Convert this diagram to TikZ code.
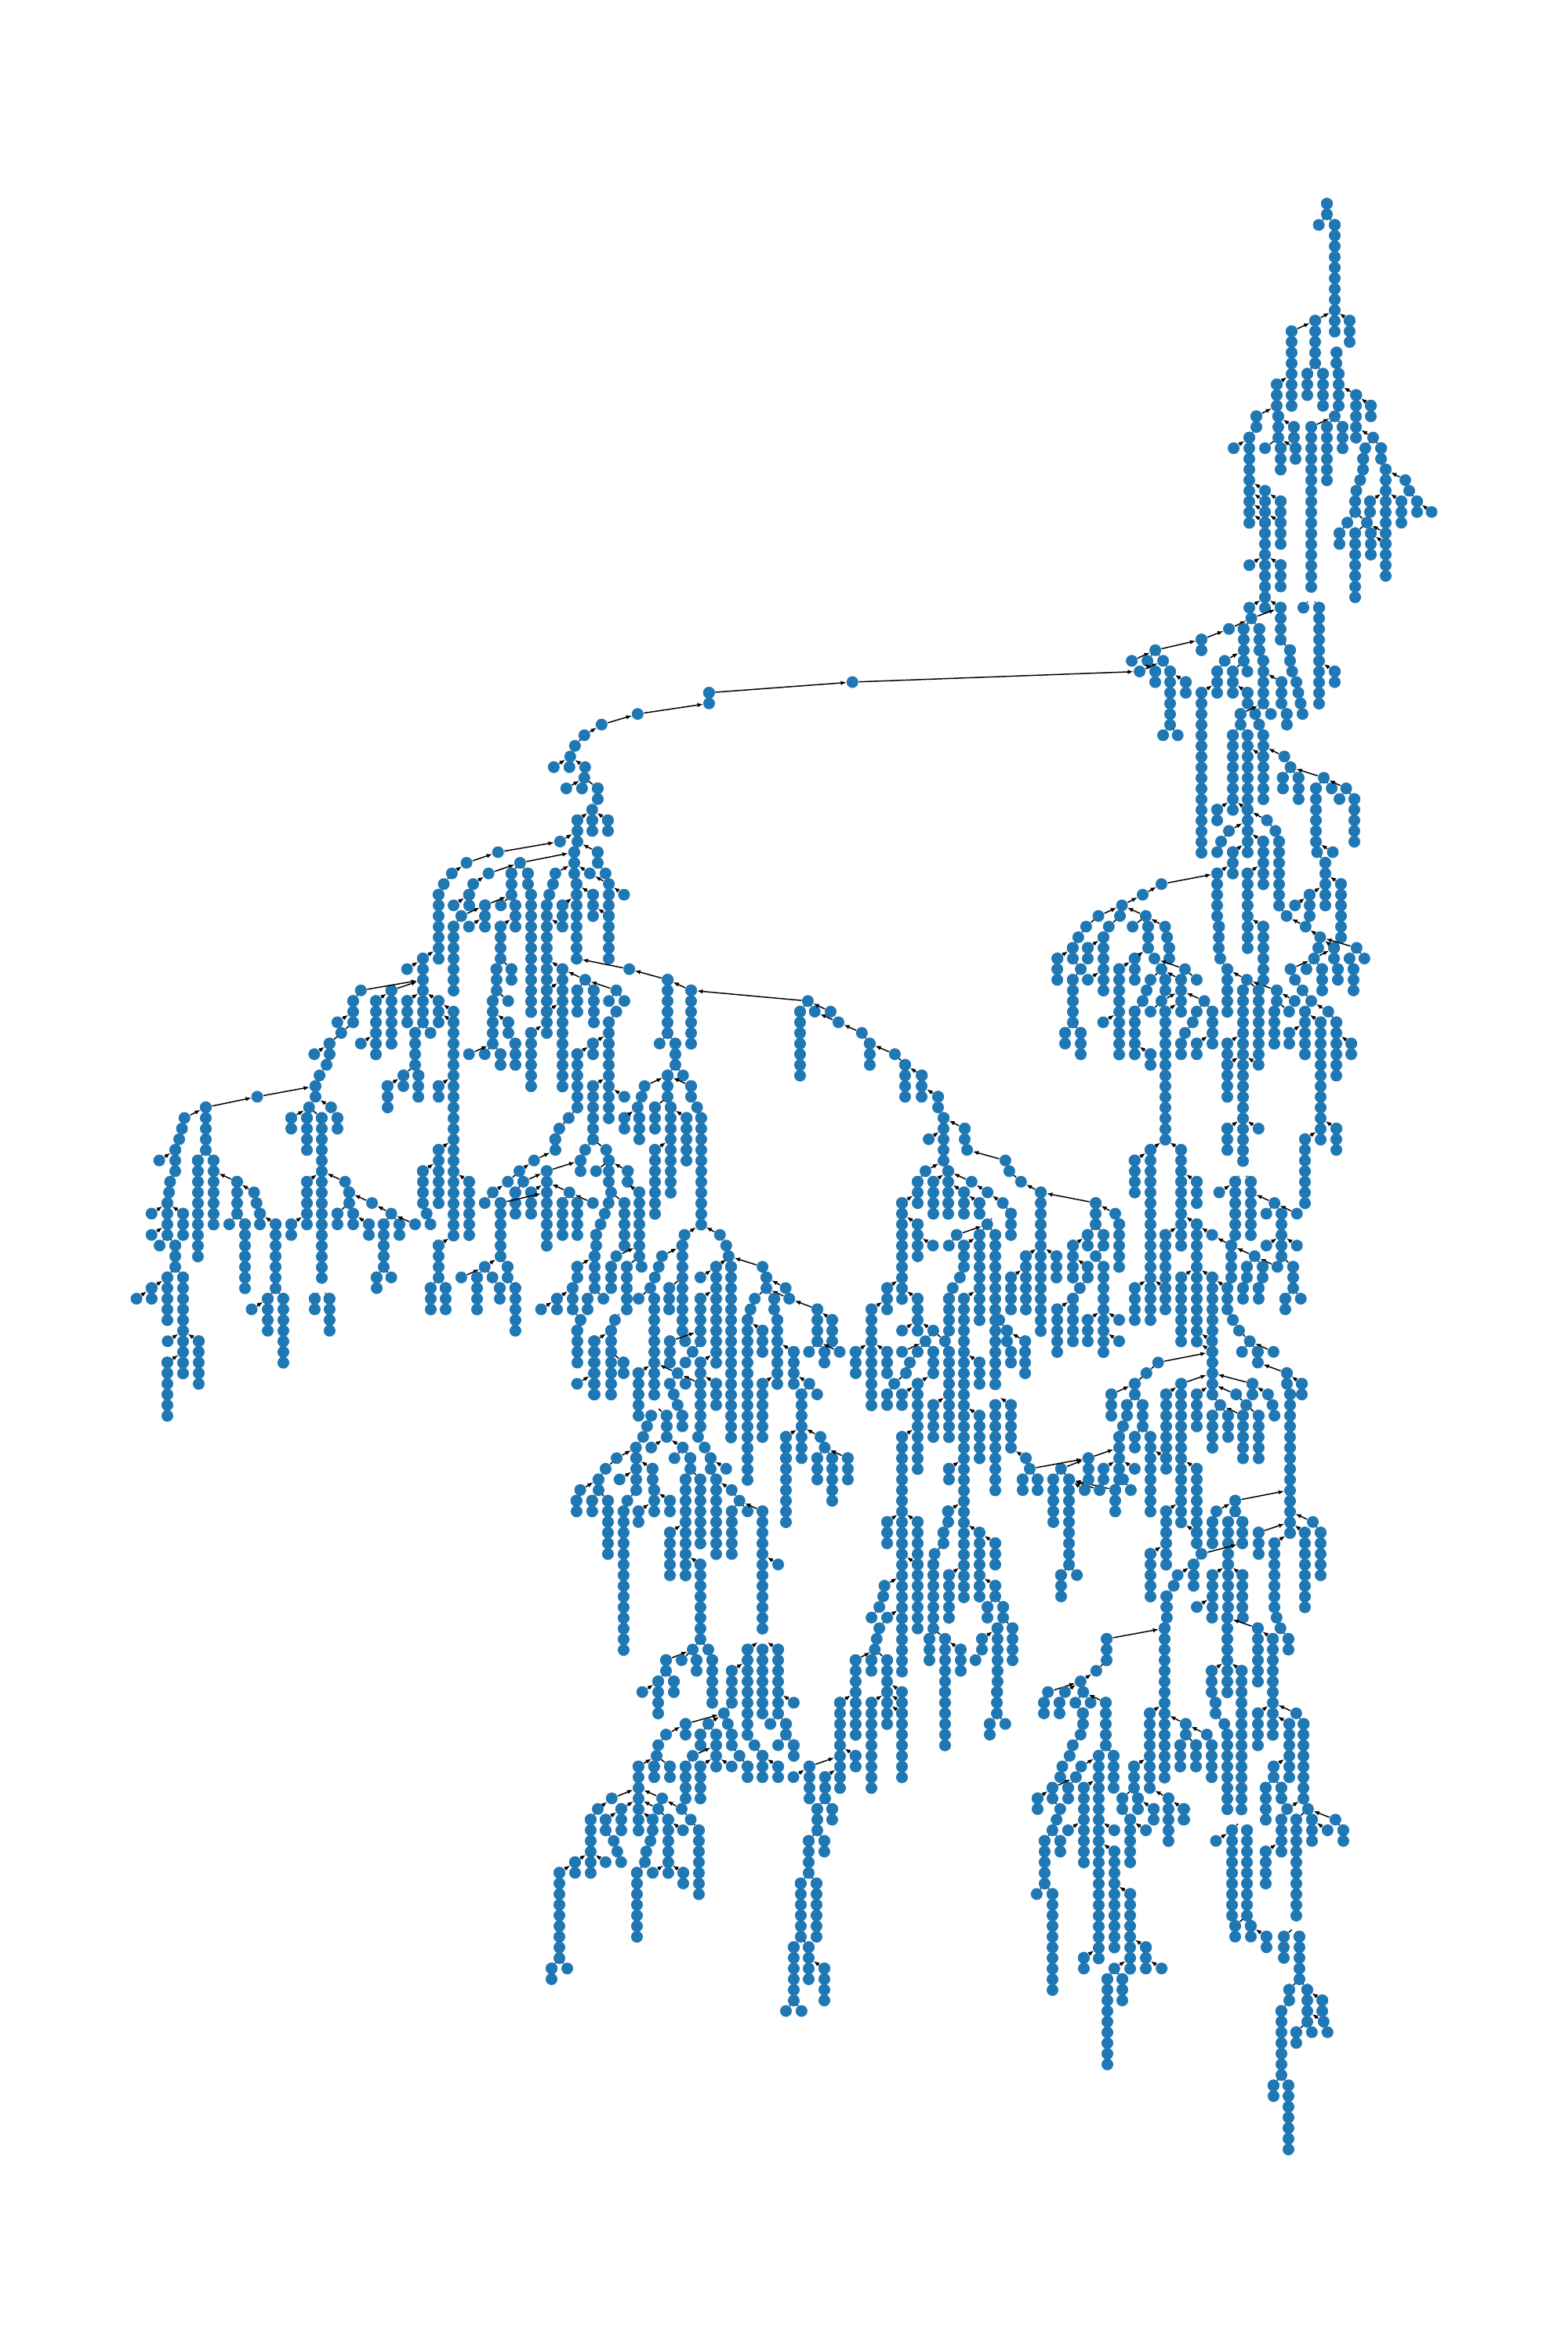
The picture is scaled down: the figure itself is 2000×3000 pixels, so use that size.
\documentclass[tikz,border=0pt]{standalone}
\usetikzlibrary{arrows.meta}
\definecolor{treeblue}{HTML}{1F77B4}
\tikzset{
  treenode/.style={circle,fill,inner sep=0pt,minimum size=0.15cm},
  treerun/.style={line width=0.15cm,line cap=round,dash pattern=on 0.01pt off 0.1356cm},
  treelink/.style={line width=0.42pt,black,shorten >=0.075cm},
  treearrow/.style={treelink,-{Latex[length=2.1pt,width=1.6pt]}}
}
\newcount\treeid
% one chain per entry: x / first y / last y / x of the parent, read off a crop
\newcommand{\treetile}[5]{%
  \foreach \zx/\zt/\zb/\zp in {#5}{%
    \global\advance\treeid by 1
    \edef\tid{\the\treeid}%
    \pgfmathsetmacro{\fx}{#1+#3*\zx}%
    \pgfmathsetmacro{\fp}{#1+#3*\zp}%
    \pgfmathtruncatemacro{\Lt}{round((#2+#4*\zt-259.8)/13.56)}%
    \pgfmathtruncatemacro{\Lb}{round((#2+#4*\zb-259.8)/13.56)}%
    \node[treenode] (n\tid) at (\fx,{259.8+13.56*\Lt}) {};
    \ifnum\Lb>\Lt
      \coordinate (e\tid) at (\fx,{259.8+13.56*\Lb+0.4});
      \draw[treerun] (n\tid.center) -- (e\tid);
    \fi
    \pgfmathtruncatemacro{\far}{abs(\fp-\fx)>17?2:(abs(\fp-\fx)>7?1:0)}%
    \ifnum\far>0
      \coordinate (up\tid) at (\fp,{259.8+13.56*(\Lt-1)});
      \ifnum\far=2
        \draw[treearrow] (n\tid) -- (up\tid);
      \else
        \draw[treelink] (n\tid) -- (up\tid);
      \fi
    \fi
  }%
}
\begin{document}
\begin{tikzpicture}[x=0.01cm,y=-0.01cm,color=treeblue]
  \useasboundingbox (0,0) rectangle (2000,3000);
  % upper right
  \treetile{1300}{230}{.3571}{.4464}{
    1099/68/100/1099,1070/128/128/1099,1127/128/465/1099,1134/494/525/1127,1141/555/645/1134,1127/675/675/1141,
    1180/402/462/1127,1057/402/525/1127,973/433/645/1057,1029/555/615/1057,1085/555/645/1057,
    920/585/645/973,925/675/735/920,934/765/825/925,847/675/705/920,822/735/980/847,766/766/766/822,878/766/766/925,
    981/705/735/925,987/766/796/925,1043/705/1190/1127,1099/705/855/1127,1155/705/766/1127,1204/614/735/1141,
    1256/645/675/1204,1264/735/735/1204,1236/766/766/1264,1229/796/826/1236,1218/858/858/1229,1204/888/888/1218,
    1200/918/950/1204,1293/766/796/1264,1309/826/980/1293,1309/1010/1010/1242,1309/1040/1130/1256,
    1379/858/858/1309,1393/888/888/1379,1421/918/950/1393,1473/948/948/1421,1365/918/980/1309,1253/918/950/1309,
    1242/980/980/1200,1172/980/980/1200,1144/1010/1040/1172,1200/1010/1190/1242,1256/1010/1070/1242,
    878/888/888/822,878/918/918/822,878/948/948/822,878/979/1220/822,934/918/950/878,934/979/1040/878,
    822/1100/1100/878,934/1100/1160/878,822/1220/1220/878,934/1220/1310/878,829/1252/1252/934,749/1282/1282/829,
    801/1282/1372/829,815/1403/1403/801,857/1282/1340/829,871/1372/1495/857,651/1312/1342/749,486/1342/1342/651,
    402/1372/1372/486,458/1372/1372/486,514/1372/1372/486,430/1403/1403/514,486/1403/1433/430,539/1403/1556/514,
    595/1433/1465/539,651/1465/1951/707,707/1403/1465/734,734/1372/1372/801,763/1403/1465/801,815/1465/1495/763,
    1071/1220/1495/1043,1015/1220/1220/1043,1127/1403/1433/1071,967/1342/1372/934,975/1403/1403/967,990/1433/1433/975,
    997/1465/1465/990,1005/1495/1495/997,1012/1525/1525/1005,937/1433/1495/871,955/1525/1555/937,899/1525/1525/871,
    843/1525/1525/871,790/1525/1555/871,857/1555/1555/843
  }
  % middle right
  \treetile{1300}{900}{.3571}{.4464}{
    514/85/85/539,566/85/85/539,763/85/298/790,815/85/268/790,871/85/115/857,871/146/268/815,815/298/419/763,
    707/298/328/763,885/328/328/815,915/358/358/885,928/388/570/915,955/600/600/928,1023/632/632/955,1075/660/660/1023,
    749/358/358/815,721/388/388/749,707/419/419/721,871/388/510/815,763/419/480/815,707/480/600/763,714/632/692/707,
    718/722/722/714,815/480/692/871,508/510/510/707,441/540/540/508,367/570/570/441,283/600/600/367,360/600/600/367,
    320/632/632/360,452/600/600/367,239/632/632/283,405/632/632/452,460/632/692/452,521/632/632/452,528/662/662/521,
    535/692/722/528,211/662/662/239,301/662/815/320,191/692/722/211,245/692/722/301,137/722/782/191,220/752/752/191,
    191/782/905/220,245/782/782/301,412/722/782/460,483/722/722/460,357/752/1000/412,508/752/752/483,592/752/752/483,
    578/782/873/508,634/782/782/592,469/782/782/508,455/812/812/469,441/843/843/455,508/843/843/578,521/782/812/508,
    661/843/843/578,634/873/873/661,690/873/965/661,620/904/904/634,592/935/935/620,578/965/995/592,634/965/995/690,
    521/873/1268/578,469/873/873/508,412/873/995/441,300/905/905/357,164/935/965/191,220/935/995/191,469/995/1026/412,
    469/1268/1329/521,578/1268/1329/521,412/1298/1389/469,743/752/873/718,813/782/782/743,920/812/843/813,
    799/812/1329/813,855/812/995/813,871/632/782/815,947/146/146/871,969/176/176/947,1088/207/207/969,941/207/237/969,
    997/207/268/969,1116/237/237/1088,1060/237/388/1088,1168/237/237/1088,1144/268/268/1168,1197/268/388/1168,
    1064/419/419/1060,1120/419/419/1060,1093/450/570/1064,1037/540/600/1093,985/570/570/1037,1149/510/660/1093,
    1068/692/692/1075,1125/692/722/1075,1053/722/722/1125,1205/692/692/1075,1233/722/722/1205,1180/722/722/1205,
    969/752/752/1053,1026/752/752/1053,1081/752/812/1053,985/782/782/969,1012/812/812/985,984/843/843/920,1043/843/843/1012,
    1138/752/782/1125,1194/752/812/1180,1104/873/873/1043,1021/873/995/1043,911/873/965/920,964/873/873/920,
    1077/904/1268/1021,1133/904/1056/1104,1186/965/995/1133,964/935/965/1021,1021/1238/1420/1077,1133/1207/1268/1077,
    743/965/995/799,743/1026/1116/799,855/1026/1026/799,743/1207/1268/799,855/1207/1207/799
  }
  % far left
  \treetile{150}{1000}{.4464}{.523}{
    1087/166/166/1264,997/192/192/1087,955/218/218/997,932/244/244/955,917/270/426/932,872/426/581/917,827/452/452/872,
    1150/192/192/1304,1060/218/218/1150,1016/244/244/1060,1004/270/296/1016,960/296/296/1004,1125/218/270/1150,
    1172/218/244/1150,1181/270/581/1172,1181/607/737/1226,1095/296/296/1125,1050/296/348/1125,982/322/322/1050,
    1004/348/348/1050,960/348/503/982,1136/296/348/1125,1094/348/426/1136,1082/452/503/1094,1125/452/478/1094,
    1072/529/633/1082,1116/529/529/1082,1116/581/607/1072,1136/633/685/1116,1094/659/685/1072,1049/659/659/1072,
    1004/659/659/1072,1226/452/478/1226,1226/503/529/1271,1226/555/607/1271,1271/452/763/1226,1336/478/478/1271,
    1425/503/503/1336,1313/503/555/1336,1360/503/581/1336,1404/529/529/1425,1448/529/529/1425,1425/555/555/1425,
    1404/581/840/1425,1358/633/659/1404,1313/659/789/1358,1289/815/815/1313,1262/841/841/1289,1250/867/892/1262,
    1190/918/918/1250,1148/944/944/1190,1115/970/970/1148,1072/996/996/1115,1049/1022/1022/1072,1358/737/867/1404,
    1448/763/763/1404,1336/892/892/1358,1396/892/892/1358,1323/918/944/1336,1404/918/970/1396,1410/996/996/1404,
    1367/944/944/1404,1458/944/970/1404,1226/944/1126/1323,1159/970/970/1226,1136/996/1048/1159,1181/996/1048/1226,
    1094/1022/1152/1226,1291/996/996/1226,1358/1022/1022/1291,1271/1022/1100/1291,1313/1022/1100/1291,1403/1022/1022/1410,
    1392/1048/1048/1403,1380/1074/1074/1392,1367/1100/1126/1380,1363/1152/1230/1367,1448/1022/1126/1410,1425/1152/1152/1491,
    1410/1178/1230/1425,1455/1178/1282/1491,1313/1178/1204/1363,1300/1230/1282/1313,1343/1256/1282/1363,1388/1256/1256/1363,
    1255/1256/1282/1300,1210/1282/1282/1255,1421/1306/1306/1443,1410/1332/1358/1421,1362/1358/1488/1410,1323/1306/1306/1300,
    1313/1332/1410/1323,1313/1462/1462/1362,1410/1384/1488/1410,1445/1410/1436/1410,
    917/529/581/872,827/529/581/872,894/607/607/872,960/555/555/917,960/581/1126/917,850/607/685/872,817/711/737/850,
    860/711/763/850,771/737/789/817,782/503/633/872,695/503/503/872,673/529/581/695,738/529/659/782,628/581/581/673,
    639/607/607/673,605/633/659/639,562/659/659/605,695/633/633/738,597/685/685/605,577/711/711/597,565/737/763/577,
    399/763/763/565,252/789/892/399,191/815/815/252,184/841/841/191,176/867/867/184,165/892/944/176,119/918/918/165,
    150/970/970/165,147/996/996/150,142/1022/1100/147,97/1048/1048/142,97/1100/1100/142,187/1048/1100/142,120/1126/1126/142,
    165/1126/1178/142,142/1204/1306/165,187/1204/1462/165,97/1230/1256/142,54/1256/1256/97,142/1410/1540/187,
    143/1358/1358/187,232/1358/1462/187,229/918/1152/252,274/918/1074/252,341/970/1048/274,390/996/996/341,397/1022/1022/390,
    407/1048/1074/397,319/1074/1074/341,364/1074/1230/341,452/1074/1230/407,496/1074/1100/541,429/1256/1332/452,
    473/1256/1410/452,383/1282/1282/429,547/789/789/565,610/789/789/565,496/815/841/547,541/815/892/547,583/815/1230/547,
    628/815/841/610,541/970/1074/583,650/970/970/583,661/996/1022/650,628/1048/1074/661,673/1048/1074/661,727/1022/1022/661,
    782/1048/1048/727,718/1074/1100/673,760/1074/1178/782,805/1074/1100/782,850/1074/1074/782,740/1204/1230/760,
    782/1204/1204/760,563/1256/1282/583,605/1256/1332/583,917/737/763/960,917/892/1022/960,872/944/1022/917,
    1004/970/1100/960,883/1048/1048/872,894/1074/1074/883,917/1126/1204/960,894/1230/1282/917,937/1230/1282/917,
    1049/1178/1178/1094,982/1204/1204/1049,1027/1204/1282/1049,1071/1204/1204/1049,1114/1178/1204/1094,1092/1230/1256/1071,
    1136/1230/1332/1114
  }
  % centre
  \treetile{650}{1200}{.3827}{.4783}{
    994/160/160/605,1017/188/188/994,1070/188/188/994,1096/217/217/1017,1174/245/245/1096,1200/273/330/1174,1284/302/302/1200,
    1318/330/415/1284,1374/358/415/1318,1428/415/443/1374,968/188/358/994,605/131/273/527,527/103/245/398,500/273/273/527,
    552/273/330/527,527/358/415/552,578/358/358/552,450/387/387/527,440/415/415/450,427/443/443/440,432/472/528/427,
    605/387/415/527,484/443/500/527,537/443/670/527,590/472/585/537,625/443/443/605,638/472/783/625,484/557/727/537,
    382/472/500/427,432/670/840/382,440/868/868/432,430/953/953/469,583/783/783/638,701/783/783/638,575/812/1038/583,
    585/1067/1067/575,722/812/812/701,730/840/840/722,738/868/1350/730,843/868/868/730,856/897/925/843,920/925/925/856,
    932/953/953/856,1026/982/1067/932,1075/1010/1067/1026,998/1095/1095/1026,1050/1095/1123/1026,1100/1095/1095/1026,
    817/953/953/856,882/953/982/856,803/982/982/817,793/1010/1465/803,892/1010/1180/882,843/1038/1095/793,947/1095/1180/892,
    843/1180/1322/892,999/1180/1180/947,1025/1208/1208/999,972/1208/1350/999,921/1322/1350/972,1036/1322/1322/972,
    1050/1350/1350/1036,688/868/1123/738,636/897/897/688,636/953/1067/688,508/840/840/575,497/868/868/508,484/897/897/497,
    469/925/925/484,482/953/1237/469,532/925/982/575,534/1067/1123/636,610/1095/1095/636,586/1123/1123/610,636/1123/1152/688,
    636/1180/1295/560,628/1322/1322/636,650/1350/1350/628,688/1180/1237/636,560/1152/1152/482,534/1180/1180/560,586/1180/1180/560,
    547/1208/1208/534,560/1237/1237/547,575/1265/1293/560,523/1265/1322/482,472/1265/1265/482,458/1293/1293/472,445/1322/1322/458,
    429/1152/1265/482,472/1350/1350/523,577/1350/1350/523,421/1350/1350/445,1153/1095/1152/1205
  }
  % right centre
  \treetile{1100}{1400}{.4145}{.4783}{
    886/224/480/886,886/508/592/886,932/366/480/981,932/508/565/886,838/508/592/886,981/224/394/981,1029/224/281/981,
    1029/337/678/981,910/705/705/1076,874/735/735/910,838/764/792/874,766/792/849/838,814/820/849/838,862/820/877/838,
    802/877/877/814,790/906/1019/802,838/906/934/862,886/906/1104/862,934/792/934/981,934/962/991/886,981/764/1161/1076,
    1029/792/877/1076,1076/480/622/1029,1076/650/650/1029,1076/678/792/1029,981/480/650/1029,1123/508/565/1076,
    1135/394/480/1076,1076/366/366/1029,1147/224/366/1170,1195/224/366/1170,1098/252/252/1147,1268/281/281/1195,
    1243/309/309/1268,1337/309/309/1268,1290/309/423/1268,1243/394/394/1290,1337/394/394/1290,1207/423/423/1135,
    1277/451/451/1207,1325/451/508/1290,1301/536/565/1325,1349/536/536/1325,1183/451/480/1207,1232/451/480/1207,
    1171/508/536/1183,1219/508/536/1232,1140/593/593/1123,1159/622/622/1140,1192/650/650/1159,1265/678/678/1192,
    1168/678/678/1192,1216/678/707/1192,1306/735/764/1216,1352/764/792/1306,1316/792/1190/1306,1200/764/792/1076,
    1150/792/792/1076,1248/792/792/1200,1262/820/820/1248,1268/849/849/1262,1101/820/820/1076,1181/820/820/1150,
    1171/849/962/1101,1077/849/934/1101,1125/849/906/1101,1219/849/962/1181,1386/1133/1133/1316,1361/1161/1360/1316,
    1410/1161/1275/1386,1268/1190/1360/1316,1147/1076/1104/1316,1089/1104/1104/1147,1077/1133/1190/1089,1125/1133/1218/1147,
    1170/1133/1190/1147,1219/1161/1218/1316,1043/1218/1218/1170,1019/1246/1303/1043,970/1275/1275/1019,958/1303/1303/970,
    936/1332/1360/958,886/1218/1332/934,934/1104/1246/981,1029/991/1133/981,1029/1161/1190/981,838/991/991/790,802/1019/1019/790,
    778/1048/1104/636,730/1048/1048/636,826/1048/1048/802,684/1048/1048/636,695/962/1019/790,742/991/1019/790,611/991/991/695,
    515/991/991/695,503/962/962/457,457/820/934/409,493/1019/1048/515,539/1019/1048/515,587/1019/1133/611,636/1019/1246/611,
    611/1275/1332/636,660/1275/1275/636,718/281/338/549,778/309/309/718,790/337/451/778,693/366/394/718,742/366/394/718,
    718/423/423/742,742/451/678/718,648/394/480/693,693/451/480/648,669/508/508/693,648/536/650/669,599/565/678/648,
    693/593/650/742,790/593/593/742,790/650/650/742,597/423/480/549,503/423/565/549,457/480/565/503,409/366/792/384,
    409/820/1048/409,384/338/338/409,432/281/281/385,385/252/252/336,336/224/224/264,264/195/309/250,250/53/167/232,
    204/110/110/250,315/82/110/250,322/139/139/315,440/167/167/322,452/195/195/440,488/224/224/452,549/252/650/488,
    313/252/309/264,360/281/309/313,457/309/366/432,218/224/309/264,170/224/281/194,194/195/195/250,122/281/536/170,
    170/337/423/122,217/394/394/170,76/508/565/122,28/565/849/76,170/536/622/122,122/622/622/170,218/622/622/170,
    194/650/650/218,254/650/650/218,122/678/678/194,170/678/678/194,218/678/735/194,146/707/707/170,134/735/735/146,
    98/764/764/134,76/678/735/28,170/764/991/218,76/792/820/98,122/792/820/170,122/906/1559/170,218/820/906/266,
    290/366/366/384,266/394/394/290,360/366/593/384,312/394/451/360,300/480/480/312,278/508/508/300,266/536/622/278,
    312/536/1360/360,266/678/906/254,360/707/764/312,421/593/593/409,445/622/650/421,501/650/735/445,457/678/707/445,
    360/849/962/312,266/991/1019/312,263/1104/1133/312,249/1161/1190/263,222/1218/1218/249,218/1246/1417/222,
    266/1275/1388/312,360/1161/1332/312,409/1190/1246/360,409/1303/1332/360,385/1360/1388/409,433/1360/1388/409,
    415/1417/1559/433,462/1417/1502/433,368/1445/1474/415,348/1502/1502/368,302/1474/1530/254,254/1445/1559/218,
    206/1445/1502/218,170/1133/1218/122,76/1133/1190/122,170/1246/1417/122,68/1303/1303/122,64/1332/1332/68,52/1360/1360/64,
    28/1388/1388/52,76/1388/1388/122,52/1417/1417/76,44/1445/1445/52,38/1474/1474/44,28/1502/1530/38,76/1502/1559/38,
    1170/1275/1360/1125,1077/1275/1360/1125,1029/1360/1360/1077,1125/1246/1360/1125
  }
  % bottom middle
  \treetile{680}{1850}{.4145}{.4783}{
    1135/643/643/1089,1135/672/672/1089,1135/700/870/1089,1089/643/728/1089,1041/672/898/1089,992/558/757/1053,944/672/898/992,
    992/827/855/944,898/870/927/944,850/842/927/944,801/870/870/850,874/955/1012/898,920/955/983/898,848/1040/1125/874,
    896/1040/1068/874,823/1153/1295/848,872/1153/1295/848,802/1323/1465/823,848/1323/1408/823,896/1380/1465/848,
    778/1494/1494/802,826/1494/1494/802,317/20/105/317,257/20/20/317,223/48/48/257,201/76/105/223,145/105/105/201,
    133/133/161/145,181/133/161/201,230/133/275/201,290/133/133/317,278/161/558/290,266/76/76/317,367/48/76/317,372/105/161/367,
    421/133/161/372,324/161/190/372,435/20/20/461,484/20/48/461,546/20/48/528,594/48/48/546,514/76/246/484,469/76/360/484,
    563/76/275/546,611/105/105/563,635/133/133/611,611/161/275/635,660/161/161/635,706/161/501/635,754/303/303/706,
    421/218/332/469,514/303/501/469,778/20/190/778,826/20/20/826,874/20/76/897,920/20/133/897,968/20/76/897,
    491/530/530/514,539/530/530/514,409/558/587/491,457/558/558/491,503/558/587/491,551/558/672/539,385/615/700/409,
    433/615/643/409,336/643/643/385,660/530/757/706,706/530/700/706,754/530/700/706,611/587/672/660,802/672/672/754,
    730/728/728/754,778/728/757/754,754/785/785/778,802/785/813/778,587/700/700/611,599/728/728/587,611/757/785/599,
    635/813/813/611,660/842/870/635,681/785/785/660,706/813/870/681,754/842/870/706,469/728/757/587,539/728/728/587,
    409/757/757/469,515/757/785/539,563/757/842/539,385/785/785/409,380/813/813/385,491/813/813/563,324/842/1012/380,
    372/842/870/380,421/842/870/380,469/842/927/491,514/842/927/563,611/842/842/563,242/927/927/324,397/927/927/324,
    199/955/955/242,271/955/1012/324,385/955/955/324,457/955/955/397,485/983/983/457,510/1012/1181/485,177/983/1125/199,
    223/983/1012/271,368/983/1012/324,415/983/1125/385,461/1012/1012/415,248/1040/1040/223,259/1068/1068/248,271/1097/1097/259,
    361/1040/1040/368,348/1068/1068/361,344/1097/1097/348,319/1125/1295/344,368/1125/1125/415,462/1125/1153/415,223/1097/1097/177,
    129/1097/1125/177,81/1125/1352/129,57/1380/1408/81,105/1380/1380/81,1267/643/785/1267,1428/643/700/1428,1405/728/757/1428,
    1453/728/728/1428
  }
  % lower right
  \treetile{1280}{2050}{.3333}{.4592}{
    625/27/27/625,616/57/500/625,560/293/500/616,395/87/145/616,355/175/175/395,295/205/205/355,305/234/234/295,170/234/234/295,
    235/234/234/295,155/264/293/170,214/264/293/235,275/264/264/305,333/264/264/305,391/264/382/305,303/293/323/275,295/352/352/303,
    265/382/382/295,253/412/412/265,225/441/441/253,217/471/471/225,297/441/441/364,277/471/471/297,364/412/1002/391,421/412/500/391,
    187/500/530/277,247/500/530/277,130/530/559/187,217/559/559/187,203/589/589/217,187/618/618/203,157/648/766/187,217/648/677/187,
    127/795/795/157,187/795/1061/157,307/500/707/364,247/618/618/307,424/618/618/364,424/677/973/364,424/1002/1002/485,307/973/1002/364,
    485/795/1002/424,545/943/1002/485,605/1002/1002/545,397/1032/1268/424,455/1032/1090/424,499/441/500/560,455/530/559/499,
    514/530/559/499,485/589/707/455,545/618/618/485,575/559/589/514,631/530/648/560,690/559/589/631,697/323/352/616,778/352/352/697,
    676/382/441/697,737/382/441/697,797/382/471/778,856/27/234/856,798/27/27/798,916/27/27/916,973/57/205/856,1031/86/352/973,1045/27/27/1037,
    1060/57/57/1045,1090/86/116/1060,797/175/234/856,912/175/589/856,811/264/293/797,845/323/323/811,856/352/559/845,874/618/855/912,
    932/618/855/912,813/648/648/874,886/884/914/932,946/884/914/932,1006/914/943/946,1120/293/293/1031,1149/323/530/1120,
    973/293/382/1031,1093/323/471/1031,1034/441/471/1093,1003/500/589/1034,1063/500/530/1034,1085/559/559/1149,1165/559/559/1149,
    1270/589/589/1165,1120/589/884/1165,1063/589/677/1085,1003/677/766/1063,1180/589/648/1165,1240/618/618/1180,1300/618/648/1270,
    1073/914/973/1120,1132/914/1032/1120,1093/1061/1090/1132,1162/1061/1149/1132,1220/1090/1120/1162,1225/1149/1149/1162,
    1180/1179/1179/1162,1240/1179/1179/1225,1120/1179/1209/1162,1063/1120/1297/1093,1033/1327/1356/1063,1090/1327/1504/1063
  }
  % upper arc
  \treetile{660}{840}{.3333}{.3333}{
    1282/90/90/2380,733/131/172/1282,460/214/214/733,322/253/253/460,256/294/294/322,220/334/334/256,202/374/374/220,
    139/414/414/202,199/414/414/202,259/414/414/202,256/456/456/259,187/496/496/256,247/496/496/256,307/496/538/256,
    286/578/578/307,229/619/700/286,286/619/660/286,346/619/660/286,163/700/700/229,217/741/823/229,307/741/781/229,
    145/823/823/217,136/862/862/145,277/823/823/217,337/823/823/307,350/862/862/277,408/904/904/350,226/862/1148/217,
    289/904/986/226,172/945/986/226,172/1027/1027/112,350/904/945/350,350/986/1148/289,122/904/904/136,112/945/1148/122,
    428/1188/1188/226
  }
\end{tikzpicture}
\end{document}
